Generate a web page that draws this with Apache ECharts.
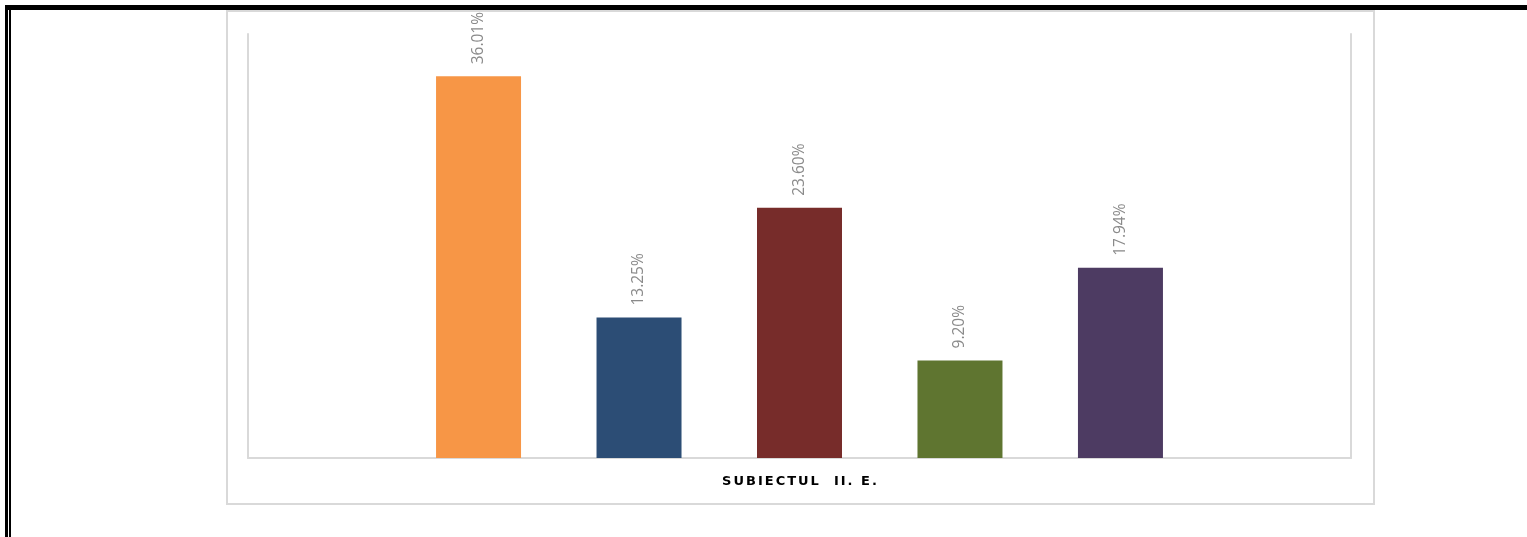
<!DOCTYPE html>
<html>
<head>
<meta charset="utf-8">
<script src="https://cdn.jsdelivr.net/npm/echarts@6/dist/echarts.min.js"></script>
<style>
html,body{margin:0;padding:0;background:#fff;}
#main{width:1527px;height:537px;}
</style>
</head>
<body>
<div id="main"></div>
<script>
const categories = ['SUBIECTUL  II. E.'];
const seriesNames = ['A', 'B', 'C', 'D', 'E'];
const seriesValues = [36.01, 13.25, 23.60, 9.20, 17.94];
const seriesColors = ['#F79646', '#2C4D75', '#772C2A', '#5F7530', '#4D3B62'];
const yMin = 0, yMax = 40;

const chart = echarts.init(document.getElementById('main'), null, {renderer: 'canvas'});

const series = seriesNames.map((n, i) => ({
  name: n,
  type: 'bar',
  data: [seriesValues[i]],
  barWidth: 85,
  barGap: '88.8%',
  itemStyle: {color: seriesColors[i]},
  label: {
    show: true,
    position: 'top',
    rotate: 90,
    align: 'left',
    verticalAlign: 'middle',
    distance: 12,
    color: '#8a8a8a',
    fontFamily: 'Open Sans',
    fontSize: 15.5,
    formatter: p => p.value.toFixed(2) + '%'
  }
}));

chart.setOption({
  animation: false,
  backgroundColor: '#fff',
  grid: {left: 248, right: 176, top: 34, bottom: 79},
  xAxis: {
    type: 'category',
    data: categories,
    axisLine: {show: true, lineStyle: {color: '#d9d9d9', width: 2}},
    axisTick: {show: false},
    axisLabel: {
      margin: 17,
      formatter: v => v.split('').map(c => '{c|' + c + '}').join(''),
      rich: {
        c: {fontFamily: 'DejaVu Sans', fontWeight: 'bold', fontSize: 13, color: '#000', padding: [0, 1.0, 0, 1.0]}
      }
    }
  },
  yAxis: [
    {type: 'value', min: yMin, max: yMax, position: 'left',
     axisLine: {show: true, lineStyle: {color: '#d9d9d9', width: 2}},
     axisTick: {show: false}, axisLabel: {show: false}, splitLine: {show: false}},
    {type: 'value', min: yMin, max: yMax, position: 'right',
     axisLine: {show: true, lineStyle: {color: '#d9d9d9', width: 2}},
     axisTick: {show: false}, axisLabel: {show: false}, splitLine: {show: false}}
  ],
  series: series,
  graphic: [
    {type: 'rect', shape: {x: 227, y: 11, width: 1147, height: 493}, style: {fill: 'none', stroke: '#d9d9d9', lineWidth: 2}, z: -1},
    {type: 'rect', shape: {x: 5, y: 5, width: 1522, height: 5}, style: {fill: '#000'}},
    {type: 'rect', shape: {x: 5, y: 5, width: 3, height: 532}, style: {fill: '#000'}},
    {type: 'rect', shape: {x: 9, y: 9, width: 2, height: 528}, style: {fill: '#000'}}
  ]
});
</script>
</body>
</html>
